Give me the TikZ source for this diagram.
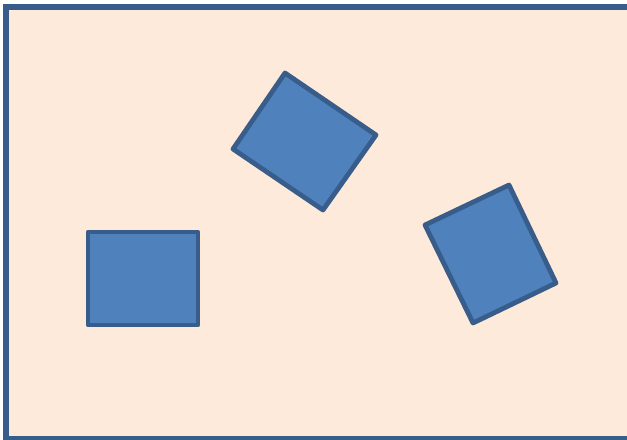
\documentclass[tikz,border=0pt]{standalone}
\definecolor{peach}{HTML}{FDEADA}
\definecolor{tileblue}{HTML}{4F81BD}
\definecolor{edgeblue}{HTML}{385D8A}
\tikzset{
  frame/.style={draw=edgeblue, fill=peach, line width=4.5pt},
  tile/.style={draw=edgeblue, fill=tileblue, line width=3.6pt, line join=round}
}
\begin{document}
\begin{tikzpicture}[x=0.75pt,y=-0.75pt]
\useasboundingbox (0,0) rectangle (627,439);
\clip (0,0) rectangle (627,439);
\draw[frame] (6,7) rectangle (650,439);
\draw[tile] (88,232) rectangle (198,325);
\draw[tile] (285,73)--(376,135)--(323,210)--(233,149)--cycle;
\draw[tile] (509,185)--(556,283)--(473,323)--(425,225)--cycle;
\end{tikzpicture}
\end{document}
